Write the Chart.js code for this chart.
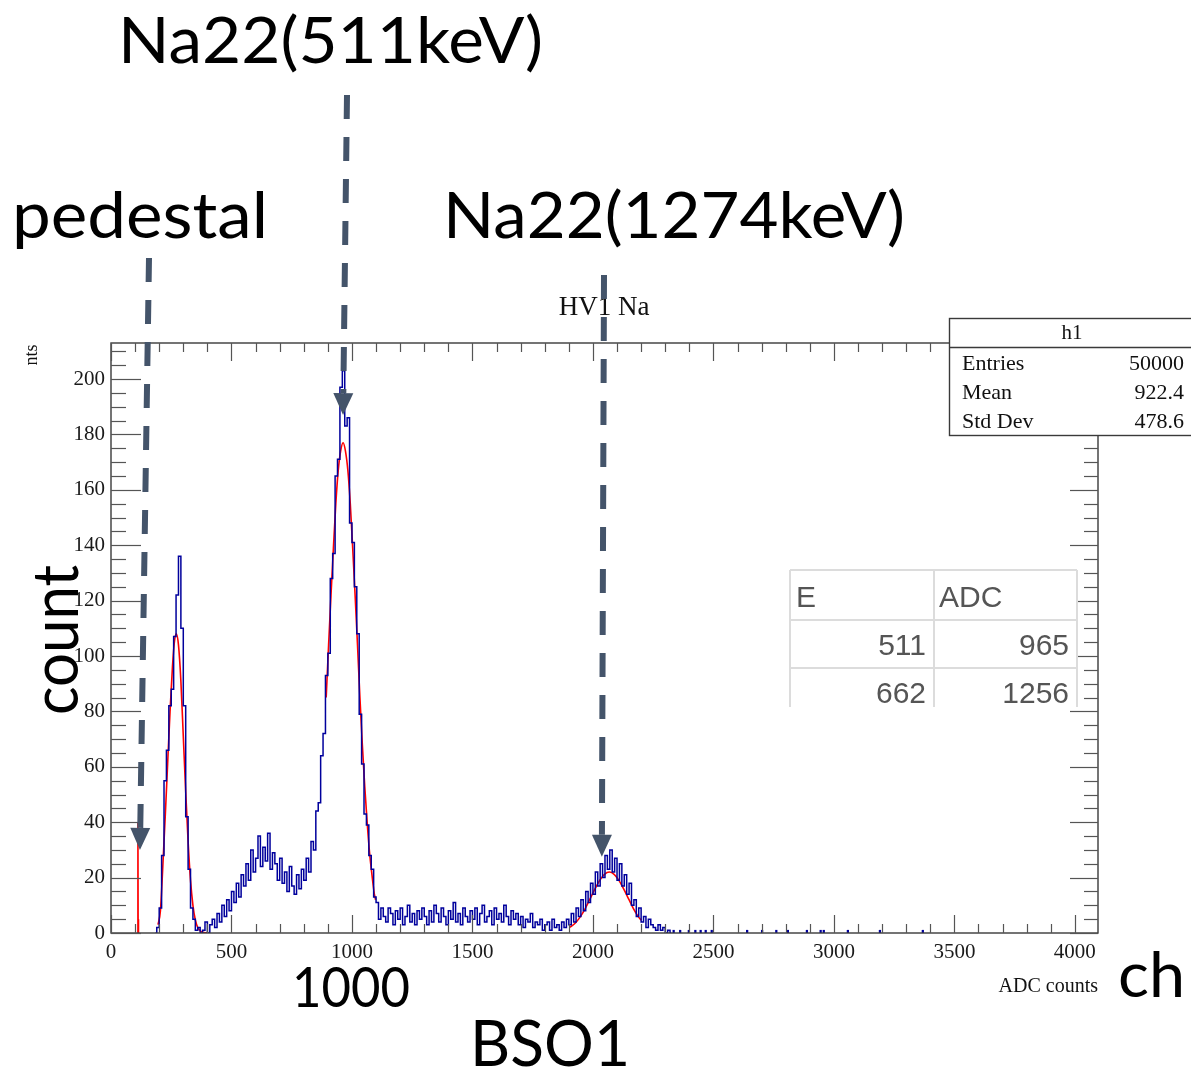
<!DOCTYPE html>
<html>
<head>
<meta charset="utf-8">
<title>BSO1</title>
<script src="https://cdn.jsdelivr.net/npm/chart.js@4.4.1/dist/chart.umd.min.js"></script>
<style>
  html, body { margin: 0; padding: 0; background: #fff; }
  canvas { display: block; }
</style>
</head>
<body>
<canvas id="spectrum" width="1191" height="1070"></canvas>
<script>
// ---- histogram: counts per 10-channel bin, first bin starts at channel 180
const histStart = 180;
const binWidth = 10;
const histCounts = [
  0, 2, 9, 28, 55, 66, 82, 88, 107, 122,
  136, 110, 82, 42, 23, 9, 5, 1, 2, 0,
  1, 4, 0, 3, 5, 2, 7, 4, 10, 6,
  12, 8, 15, 11, 18, 13, 21, 17, 25, 19,
  30, 22, 27, 35, 24, 31, 26, 36, 23, 29,
  25, 19, 27, 18, 22, 15, 24, 17, 14, 21,
  16, 23, 19, 27, 22, 33, 30, 44, 47, 64,
  72, 93, 101, 128, 137, 165, 171, 197, 203, 183,
  186, 148, 141, 125, 108, 79, 61, 43, 39, 28,
  23, 13, 11, 5, 9, 6, 4, 9, 7, 3,
  8, 5, 9, 3, 6, 10, 4, 7, 3, 8,
  5, 9, 6, 3, 8, 4, 10, 7, 4, 9,
  6, 3, 8, 5, 11, 4, 7, 3, 9, 6,
  4, 8, 5, 9, 3, 7, 10, 4, 6, 8,
  3, 9, 5, 7, 4, 10, 6, 3, 8, 5,
  7, 3, 6, 2, 5, 4, 7, 2, 4, 3,
  5, 1, 3, 4, 1, 5, 2, 3, 1, 4,
  2, 5, 3, 7, 4, 9, 6, 12, 8, 15,
  11, 18, 14, 22, 17, 25, 20, 28, 23, 30,
  22, 27, 19, 25, 17, 21, 14, 18, 10, 12,
  6, 9, 4, 6, 2, 5, 3, 2, 1, 3,
  1, 2, 0, 1, 0
];

// isolated single-count channels above the last peak
const tailChannels = [2335, 2362, 2398, 2425, 2447, 2468, 2493, 2640, 2702, 2761, 2809, 2888, 2945, 2958, 3058, 3191, 3369];
const tailCounts   = [1, 1, 1, 1, 1, 1, 1, 1, 1, 1, 1, 1, 1, 1, 1, 1, 1];

// gaussian fits (red)
const fitPedCh    = [110, 111.5, 112, 112.5, 114];
const fitPedCount = [0, 5, 40, 5, 0];
const fit1Ch    = [195, 205, 215, 225, 235, 245, 255, 263, 271, 280, 290, 300, 310, 320, 330, 340, 350, 360, 370, 380, 398];
const fit1Count = [3, 8, 24, 42, 61, 80, 96, 105, 108, 104, 91, 71, 51, 33, 19, 10, 4.7, 2, 0.8, 0.3, 0.05];
const fit2Ch    = [893, 903, 913, 923, 933, 943, 953, 963, 973, 983, 993, 1003, 1013, 1023, 1033, 1043, 1053, 1063, 1073, 1083, 1093, 1098];
const fit2Count = [85, 104, 122, 139, 155, 167, 174, 177, 174, 167, 155, 139, 122, 104, 85, 68, 53, 40, 29, 21, 14, 12];
const fit3Ch    = [1905, 1928, 1948, 1968, 1988, 2008, 2028, 2048, 2068, 2088, 2108, 2128, 2148, 2168, 2188, 2200];
const fit3Count = [2.0, 3.7, 5.9, 8.8, 12.3, 15.8, 19.0, 21.2, 22, 21.2, 19.0, 15.8, 12.3, 8.8, 5.9, 4.6];

// axis tick values
const xMajorTicks = [0, 500, 1000, 1500, 2000, 2500, 3000, 3500, 4000];
const yMajorTicks = [0, 20, 40, 60, 80, 100, 120, 140, 160, 180, 200];

// statistics box
const histName = 'h1';
const statNames  = ['Entries', 'Mean', 'Std Dev'];
const statValues = ['50000', '922.4', '478.6'];

// energy / ADC calibration table
const tableHead = ['E', 'ADC'];
const energies  = [511, 662];
const adcValues = [965, 1256];

// peak markers: channel and count of the arrow tip
const markerCh    = [120, 963, 2037];
const markerCount = [30, 187, 27.5];

const serif = '"Liberation Serif", "DejaVu Serif", serif';
const sans = 'Lato, "Noto Sans", sans-serif';
const arrowColor = '#44546a';

const toXY = (xs, ys) => xs.map((v, i) => ({ x: v, y: ys[i] }));
const histPoints = histCounts.map((c, i) => ({ x: histStart + binWidth * i + binWidth / 2, y: c }));

function line(ctx, x0, y0, x1, y1) {
  ctx.beginPath();
  ctx.moveTo(x0, y0);
  ctx.lineTo(x1, y1);
  ctx.stroke();
}

function drawArrow(ctx, x0, y0, x1, y1) {
  const ang = Math.atan2(y1 - y0, x1 - x0);
  const headLen = 22, headHalf = 10;
  const bx = x1 - headLen * Math.cos(ang);
  const by = y1 - headLen * Math.sin(ang);
  ctx.strokeStyle = arrowColor;
  ctx.fillStyle = arrowColor;
  ctx.lineWidth = 6;
  ctx.setLineDash([24, 18]);
  line(ctx, x0, y0, bx, by);
  ctx.setLineDash([]);
  const nx = -Math.sin(ang), ny = Math.cos(ang);
  ctx.beginPath();
  ctx.moveTo(x1, y1);
  ctx.lineTo(bx + nx * headHalf, by + ny * headHalf);
  ctx.lineTo(bx - nx * headHalf, by - ny * headHalf);
  ctx.closePath();
  ctx.fill();
}

// big slide-style labels, squeezed to their box width
function wideText(ctx, text, x, y, size, width, rotate) {
  ctx.save();
  ctx.font = size + 'px ' + sans;
  ctx.fillStyle = '#000';
  ctx.textAlign = 'left';
  ctx.textBaseline = 'alphabetic';
  const w = ctx.measureText(text).width;
  ctx.translate(x, y);
  if (rotate) ctx.rotate(-Math.PI / 2);
  ctx.scale(width / w, 1);
  ctx.fillText(text, 0, 0);
  ctx.restore();
}

const rootFrame = {
  id: 'rootFrame',
  afterDatasetsDraw(chart) {
    const { ctx, chartArea: a, scales: { x, y } } = chart;
    ctx.save();
    ctx.strokeStyle = '#3a3a3a';
    ctx.lineWidth = 1.4;
    ctx.strokeRect(a.left, a.top, a.right - a.left, a.bottom - a.top);
    ctx.lineWidth = 1.2;
    ctx.strokeStyle = '#555';
    // ticks point inward on all four sides
    for (let v = 0; v <= 4000; v += 100) {
      const px = Math.round(x.getPixelForValue(v)) + 0.5;
      const len = xMajorTicks.includes(v) ? 18 : 9;
      line(ctx, px, a.bottom, px, a.bottom - len);
      line(ctx, px, a.top, px, a.top + len);
    }
    for (let v = 0; v <= 210; v += 5) {
      const py = Math.round(y.getPixelForValue(v)) + 0.5;
      const major = yMajorTicks.includes(v);
      line(ctx, a.left, py, a.left + (major ? 30 : 15), py);
      line(ctx, a.right, py, a.right - (major ? 28 : 14), py);
    }
    ctx.restore();
  },
  afterDraw(chart) {
    const { ctx, chartArea: a, scales: { x, y } } = chart;
    ctx.save();

    // title and cut y title
    ctx.fillStyle = '#111';
    ctx.font = '27px ' + serif;
    ctx.textAlign = 'center';
    ctx.textBaseline = 'middle';
    ctx.fillText('HV1 Na', 604, 308);
    ctx.save();
    ctx.translate(32, 355);
    ctx.rotate(-Math.PI / 2);
    ctx.font = '18px ' + serif;
    ctx.fillText('nts', 0, 0);
    ctx.restore();

    // x axis title
    ctx.font = '20px ' + serif;
    ctx.textAlign = 'right';
    ctx.textBaseline = 'alphabetic';
    ctx.fillText('ADC counts', a.right, 992);

    // stats box
    ctx.fillStyle = '#fff';
    ctx.fillRect(949, 318, 250, 118);
    ctx.strokeStyle = '#3a3a3a';
    ctx.lineWidth = 1.4;
    ctx.strokeRect(949.5, 318.5, 260, 117);
    line(ctx, 949, 347.5, 1191, 347.5);
    ctx.fillStyle = '#111';
    ctx.font = '21px ' + serif;
    ctx.textAlign = 'center';
    ctx.textBaseline = 'middle';
    ctx.fillText(histName, 1072, 333);
    ctx.font = '22px ' + serif;
    statNames.forEach((n, i) => {
      const ty = 364 + i * 29;
      ctx.textAlign = 'left';
      ctx.fillText(n, 962, ty);
      ctx.textAlign = 'right';
      ctx.fillText(statValues[i], 1184, ty);
    });

    // calibration table
    ctx.fillStyle = '#fff';
    ctx.fillRect(790, 570, 287, 137);
    ctx.strokeStyle = '#dcdcdc';
    ctx.lineWidth = 2;
    [570, 620, 668].forEach(ty => line(ctx, 790, ty, 1077, ty));
    [790, 934, 1077].forEach(tx => line(ctx, tx, 570, tx, 707));
    ctx.fillStyle = '#555';
    ctx.font = '30px "Liberation Sans", Arial, sans-serif';
    ctx.textBaseline = 'alphabetic';
    ctx.textAlign = 'left';
    ctx.fillText(tableHead[0], 796, 607);
    ctx.fillText(tableHead[1], 939, 607);
    ctx.textAlign = 'right';
    energies.forEach((e, i) => {
      const ty = 655 + i * 48;
      ctx.fillText(String(e), 926, ty);
      ctx.fillText(String(adcValues[i]), 1069, ty);
    });

    // dashed arrows down to the peaks
    const arrowTops = [[149, 258], [347, 95], [604, 275]];
    markerCh.forEach((ch, i) => {
      drawArrow(ctx, arrowTops[i][0], arrowTops[i][1], x.getPixelForValue(ch), y.getPixelForValue(markerCount[i]));
    });

    // slide labels
    wideText(ctx, 'Na22(511keV)', 118, 63, 64, 425);
    wideText(ctx, 'pedestal', 12, 238, 64, 256);
    wideText(ctx, 'Na22(1274keV)', 443, 238, 64, 462);
    wideText(ctx, 'count', 78, 715, 64, 150, true);
    wideText(ctx, '1000', 292, 1007, 56, 118);
    wideText(ctx, 'BSO1', 470, 1066, 64, 160);
    wideText(ctx, 'ch', 1118, 997, 62, 67);

    ctx.restore();
  }
};

const tickFont = { family: serif, size: 21 };

new Chart(document.getElementById('spectrum'), {
  type: 'line',
  data: {
    datasets: [
      {
        data: histPoints,
        borderColor: '#00009c',
        borderWidth: 1.5,
        stepped: 'middle',
        pointRadius: 0
      },
      {
        type: 'bar',
        data: toXY(tailChannels, tailCounts),
        backgroundColor: '#00009c',
        barThickness: 1.6
      },
      {
        data: toXY(fitPedCh, fitPedCount),
        borderColor: '#ff0000',
        borderWidth: 1.6,
        pointRadius: 0
      },
      {
        data: toXY(fit1Ch, fit1Count),
        borderColor: '#ff0000',
        borderWidth: 1.6,
        pointRadius: 0,
        cubicInterpolationMode: 'monotone'
      },
      {
        data: toXY(fit2Ch, fit2Count),
        borderColor: '#ff0000',
        borderWidth: 1.6,
        pointRadius: 0,
        cubicInterpolationMode: 'monotone'
      },
      {
        data: toXY(fit3Ch, fit3Count),
        borderColor: '#ff0000',
        borderWidth: 1.6,
        pointRadius: 0,
        cubicInterpolationMode: 'monotone'
      }
    ]
  },
  options: {
    responsive: false,
    animation: false,
    devicePixelRatio: 1,
    layout: { padding: { top: 343, right: 93, left: 0, bottom: 0 } },
    plugins: {
      legend: { display: false },
      tooltip: { enabled: false }
    },
    scales: {
      x: {
        type: 'linear',
        min: 0,
        max: 4096,
        offset: false,
        grid: { display: false, drawTicks: false },
        border: { display: false },
        afterFit: (scale) => { scale.height = 137; },
        afterBuildTicks: (scale) => { scale.ticks = xMajorTicks.map(v => ({ value: v })); },
        ticks: {
          autoSkip: false,
          maxRotation: 0,
          padding: 7,
          color: '#1a1a1a',
          font: tickFont,
          callback: (v) => String(v)
        }
      },
      y: {
        min: 0,
        max: 213,
        grid: { display: false, drawTicks: false },
        border: { display: false },
        afterFit: (scale) => { scale.width = 111; },
        afterBuildTicks: (scale) => { scale.ticks = yMajorTicks.map(v => ({ value: v })); },
        ticks: {
          autoSkip: false,
          padding: 6,
          color: '#1a1a1a',
          font: tickFont,
          callback: (v) => String(v)
        }
      }
    }
  },
  plugins: [rootFrame]
});
</script>
</body>
</html>
